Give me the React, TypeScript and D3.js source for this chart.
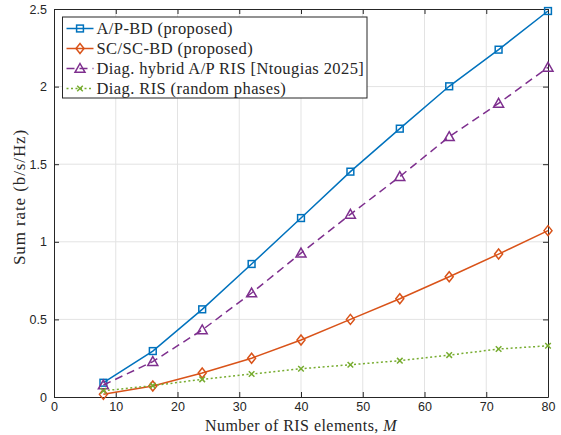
import * as d3 from 'd3';
import React, { useRef, useEffect } from 'react';

const elements = [8, 16, 24, 32, 40, 48, 56, 64, 72, 80];
const apBD = [0.092, 0.296, 0.565, 0.857, 1.153, 1.452, 1.729, 2.002, 2.238, 2.487];
const scBD = [0.017, 0.071, 0.155, 0.25, 0.367, 0.5, 0.633, 0.775, 0.921, 1.072];
const hybridAP = [0.077, 0.228, 0.432, 0.67, 0.927, 1.177, 1.42, 1.677, 1.892, 2.124];
const randomPhase = [0.04, 0.073, 0.114, 0.148, 0.182, 0.208, 0.234, 0.27, 0.309, 0.33];
const xTicks = [0, 10, 20, 30, 40, 50, 60, 70, 80];
const yTicks = [0, 0.5, 1, 1.5, 2, 2.5];

const series = [
  { name: 'A/P-BD (proposed)', values: apBD, color: '#0072BD', dash: '', marker: 'square' },
  { name: 'SC/SC-BD (proposed)', values: scBD, color: '#D95319', dash: '', marker: 'diamond' },
  { name: 'Diag. hybrid A/P RIS [Ntougias 2025]', values: hybridAP, color: '#7E2F8E', dash: '8,5', marker: 'triangle' },
  { name: 'Diag. RIS (random phases)', values: randomPhase, color: '#77AC30', dash: '2,2.5', marker: 'x' },
];

function App() {
  const ref = useRef<SVGSVGElement>(null);

  useEffect(() => {
    const width = 561, height = 435;
    const margin = { top: 9, right: 13, bottom: 38, left: 54 };
    const svg = d3.select(ref.current);
    svg.selectAll('*').remove();

    const x = d3.scaleLinear().domain([0, 80]).range([margin.left, width - margin.right]);
    const y = d3.scaleLinear().domain([0, 2.5]).range([height - margin.bottom, margin.top]);
    const axisColor = '#262626';
    const tickFont = "'Liberation Sans', Arial, sans-serif";
    const serif = "'Liberation Serif', 'DejaVu Serif', serif";

    svg.append('rect').attr('x', x(0)).attr('y', y(2.5))
      .attr('width', x(80) - x(0)).attr('height', y(0) - y(2.5)).attr('fill', 'white');

    // grid
    const grid = svg.append('g').attr('stroke', '#e3e3e3').attr('stroke-width', 1);
    xTicks.slice(1, -1).forEach(t => grid.append('line')
      .attr('x1', x(t)).attr('x2', x(t)).attr('y1', y(0)).attr('y2', y(2.5)));
    yTicks.slice(1, -1).forEach(t => grid.append('line')
      .attr('x1', x(0)).attr('x2', x(80)).attr('y1', y(t)).attr('y2', y(t)));

    // axes, ticks pointing inward on all four sides
    const bottom = svg.append('g').attr('transform', `translate(0,${y(0)})`)
      .call(d3.axisBottom(x).tickValues(xTicks).tickSizeInner(-5).tickSizeOuter(0).tickPadding(5));
    const left = svg.append('g').attr('transform', `translate(${x(0)},0)`)
      .call(d3.axisLeft(y).tickValues(yTicks).tickFormat(d => String(d)).tickSizeInner(-5).tickSizeOuter(0).tickPadding(7));
    const top = svg.append('g').attr('transform', `translate(0,${y(2.5)})`)
      .call(d3.axisTop(x).tickValues(xTicks).tickSizeInner(-5).tickSizeOuter(0).tickFormat(() => ''));
    const right = svg.append('g').attr('transform', `translate(${x(80)},0)`)
      .call(d3.axisRight(y).tickValues(yTicks).tickSizeInner(-5).tickSizeOuter(0).tickFormat(() => ''));
    [bottom, left, top, right].forEach(g => {
      g.attr('font-family', null).attr('font-size', null);
      g.selectAll('path, line').attr('stroke', axisColor);
      g.selectAll('text').attr('fill', axisColor).style('font-family', tickFont).style('font-size', '12.5px');
    });

    const line = d3.line<number>().x((_, i) => x(elements[i])).y(d => y(d));

    const drawMarker = (g: any, type: string, color: string, cx: number, cy: number) => {
      if (type === 'square') {
        g.append('rect').attr('x', cx - 3.4).attr('y', cy - 3.4).attr('width', 6.8).attr('height', 6.8)
          .attr('fill', 'none').attr('stroke', color).attr('stroke-width', 1.5);
      } else if (type === 'diamond') {
        g.append('path').attr('d', `M${cx},${cy - 5}L${cx + 4},${cy}L${cx},${cy + 5}L${cx - 4},${cy}Z`)
          .attr('fill', 'none').attr('stroke', color).attr('stroke-width', 1.5);
      } else if (type === 'triangle') {
        g.append('path').attr('d', `M${cx},${cy - 5}L${cx + 5},${cy + 3.8}L${cx - 5},${cy + 3.8}Z`)
          .attr('fill', 'none').attr('stroke', color).attr('stroke-width', 1.5);
      } else {
        g.append('path').attr('d', `M${cx - 2.8},${cy - 2.8}L${cx + 2.8},${cy + 2.8}M${cx - 2.8},${cy + 2.8}L${cx + 2.8},${cy - 2.8}`)
          .attr('fill', 'none').attr('stroke', color).attr('stroke-width', 1.5);
      }
    };

    series.forEach(s => {
      const g = svg.append('g');
      g.append('path').datum(s.values).attr('d', line).attr('fill', 'none')
        .attr('stroke', s.color).attr('stroke-width', 1.5).attr('stroke-dasharray', s.dash || null);
      s.values.forEach((v, i) => drawMarker(g, s.marker, s.color, x(elements[i]), y(v)));
    });

    // axis labels
    const xl = svg.append('text').attr('x', (x(0) + x(80)) / 2).attr('y', 430.5).attr('text-anchor', 'middle')
      .style('font-family', serif).style('font-size', '16px').style('letter-spacing', '0.45px')
      .attr('fill', axisColor);
    xl.append('tspan').text('Number of RIS elements, ');
    xl.append('tspan').attr('font-style', 'italic').text('M');
    svg.append('text').attr('transform', `translate(25,197) rotate(-90)`)
      .attr('text-anchor', 'middle').style('font-family', serif).style('font-size', '17px')
      .style('letter-spacing', '0.9px').attr('fill', axisColor)
      .text('Sum rate (b/s/Hz)');

    // legend
    const lg = svg.append('g').attr('transform', 'translate(62.5,17)');
    lg.append('rect').attr('width', 304.5).attr('height', 81).attr('fill', 'white')
      .attr('stroke', axisColor).attr('stroke-width', 1);
    series.forEach((s, i) => {
      const cy = 11.5 + i * 20;
      lg.append('line').attr('x1', 4).attr('x2', 31).attr('y1', cy).attr('y2', cy)
        .attr('stroke', s.color).attr('stroke-width', 1.5).attr('stroke-dasharray', s.dash || null);
      drawMarker(lg, s.marker, s.color, 17.5, cy);
      lg.append('text').attr('x', 34).attr('y', cy + 5.5).style('font-family', serif)
        .style('font-size', '16.5px').style('letter-spacing', '0.4px').attr('fill', axisColor).text(s.name);
    });
  }, []);

  return (
    <svg ref={ref} width={561} height={435} style={{ position: 'absolute', left: 0, top: 0 }} />
  );
}

export default App;
